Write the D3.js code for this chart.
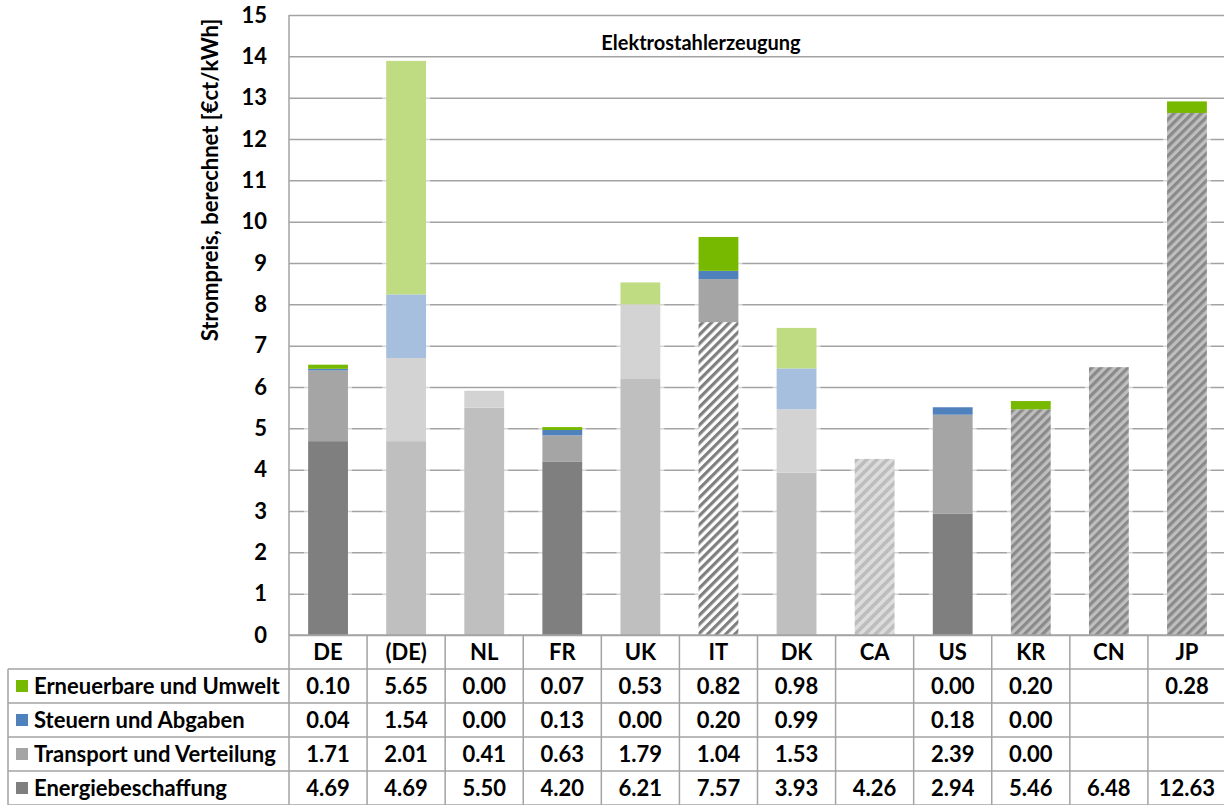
<!DOCTYPE html>
<html>
<head>
<meta charset="utf-8">
<script src="https://cdn.jsdelivr.net/npm/d3@7"></script>
<style>
  html, body { margin: 0; padding: 0; background: #fff; }
  svg { display: block; font-family: Lato, "Open Sans", sans-serif; font-weight: 700; }
</style>
</head>
<body>
<svg id="chart" width="1224" height="805"></svg>
<script>
// Countries (columns)
const categories = ["DE", "(DE)", "NL", "FR", "UK", "IT", "DK", "CA", "US", "KR", "CN", "JP"];

// Price components in €ct/kWh (null = no value given)
const renewables = [0.10, 5.65, 0.00, 0.07, 0.53, 0.82, 0.98, null, 0.00, 0.20, null, 0.28];
const taxes      = [0.04, 1.54, 0.00, 0.13, 0.00, 0.20, 0.99, null, 0.18, 0.00, null, null];
const transport  = [1.71, 2.01, 0.41, 0.63, 1.79, 1.04, 1.53, null, 2.39, 0.00, null, null];
const energy     = [4.69, 4.69, 5.50, 4.20, 6.21, 7.57, 3.93, 4.26, 2.94, 5.46, 6.48, 12.63];

const seriesNames = {
  renewables: "Erneuerbare und Umwelt",
  taxes: "Steuern und Abgaben",
  transport: "Transport und Verteilung",
  energy: "Energiebeschaffung"
};

const yTicks = [0, 1, 2, 3, 4, 5, 6, 7, 8, 9, 10, 11, 12, 13, 14, 15];

const chartTitle = "Elektrostahlerzeugung";
const yTitle = "Strompreis, berechnet [€ct/kWh]";

// Colour scheme per country and fill of the energy segment
const tone = ["dark", "light", "light", "dark", "light", "dark", "light", "dark", "dark", "dark", "dark", "dark"];
const energyFill = ["solid", "solid", "solid", "solid", "solid", "hatchWhite", "solid", "hatchLight", "solid", "hatchGray", "hatchGray", "hatchGray"];

const palette = {
  dark:  { energy: "#7f7f7f", transport: "#a5a5a5", taxes: "#4f81bd", renewables: "#77b800" },
  light: { energy: "#bfbfbf", transport: "#d3d3d3", taxes: "#a7bfde", renewables: "#bfdc82" }
};

const svg = d3.select("#chart");
const gridColor = "#a3a3a3";
const plot = { left: 289, right: 1226, top: 15, bottom: 635 };
const fontSize = "22px";

const x = d3.scaleBand()
  .domain(categories)
  .range([plot.left, plot.right])
  .paddingInner(0.49)
  .paddingOuter(0.245);

const y = d3.scaleLinear().domain([0, 15]).range([plot.bottom, plot.top]);

// Hatch patterns (upward diagonal stripes)
const defs = svg.append("defs");
function hatch(id, bg, fg, size) {
  const p = defs.append("pattern")
    .attr("id", id)
    .attr("patternUnits", "userSpaceOnUse")
    .attr("width", size).attr("height", size)
    .attr("patternTransform", "rotate(45)");
  p.append("rect").attr("width", size).attr("height", size).attr("fill", bg);
  p.append("rect").attr("width", size / 2).attr("height", size).attr("fill", fg);
}
hatch("hatchWhite", "#ffffff", "#7f7f7f", 6.4);
hatch("hatchLight", "#dcdcdc", "#bdbdbd", 7.2);
hatch("hatchGray",  "#bfbfbf", "#8a8a8a", 6.4);

// Gridlines and tick labels
const yAxis = svg.append("g")
  .attr("transform", `translate(${plot.left},0)`)
  .call(d3.axisLeft(y).tickValues(yTicks).tickFormat(d3.format("d")).tickSize(-(plot.right - plot.left)).tickPadding(22));
yAxis.select(".domain").remove();
yAxis.selectAll(".tick line").attr("stroke", gridColor).attr("stroke-width", 1.5);
yAxis.selectAll(".tick text")
  .attr("fill", "#000")
  .style("font-family", "Lato, 'Open Sans', sans-serif")
  .style("font-weight", 700)
  .style("font-size", fontSize);

// Vertical axis line
svg.append("line")
  .attr("x1", plot.left).attr("x2", plot.left)
  .attr("y1", plot.top).attr("y2", 806)
  .attr("stroke", gridColor).attr("stroke-width", 1.5);

// Stacked bars
const keys = ["energy", "transport", "taxes", "renewables"];
const rows = categories.map((c, i) => ({
  cat: c, i,
  energy: energy[i] ?? 0,
  transport: transport[i] ?? 0,
  taxes: taxes[i] ?? 0,
  renewables: renewables[i] ?? 0
}));
const stacked = d3.stack().keys(keys)(rows);

// soft halo behind bars
svg.append("g").selectAll("rect")
  .data(rows)
  .join("rect")
  .attr("x", d => x(d.cat) - 4)
  .attr("width", x.bandwidth() + 8)
  .attr("y", d => y(d3.sum(keys, k => d[k])))
  .attr("height", d => y(0) - y(d3.sum(keys, k => d[k])))
  .attr("fill", "#ffffff")
  .attr("opacity", 0.55);

function segFill(key, i) {
  if (key === "energy" && energyFill[i] !== "solid") return `url(#${energyFill[i]})`;
  return palette[tone[i]][key];
}

svg.append("g").selectAll("g")
  .data(stacked)
  .join("g")
  .each(function (layer) {
    d3.select(this).selectAll("rect")
      .data(layer.filter(d => d[1] - d[0] > 0))
      .join("rect")
      .attr("x", d => x(d.data.cat))
      .attr("width", x.bandwidth())
      .attr("y", d => y(d[1]))
      .attr("height", d => y(d[0]) - y(d[1]))
      .attr("fill", d => segFill(layer.key, d.data.i));
  });

// Title
svg.append("text")
  .attr("x", 701).attr("y", 50)
  .attr("text-anchor", "middle")
  .style("font-size", "20px")
  .text(chartTitle);

// Y axis title
svg.append("text")
  .attr("transform", "translate(218,180) rotate(-90)")
  .attr("text-anchor", "middle")
  .style("font-size", "22px")
  .text(yTitle);

// Data table
const rowH = 34;
const tableTop = plot.bottom;
const tableOrder = ["renewables", "taxes", "transport", "energy"];
const valueArrays = { renewables, taxes, transport, energy };
const step = x.step();
const colLeft = c => x(c) + x.bandwidth() / 2 - step / 2;
const table = svg.append("g");

// horizontal lines
for (let r = 0; r <= tableOrder.length + 1; r++) {
  const yy = tableTop + r * rowH;
  table.append("line")
    .attr("x1", r === 0 ? plot.left : 8).attr("x2", plot.right)
    .attr("y1", yy).attr("y2", yy)
    .attr("stroke", gridColor).attr("stroke-width", 1.5);
}
// vertical lines
categories.forEach(c => {
  table.append("line")
    .attr("x1", colLeft(c) + step).attr("x2", colLeft(c) + step)
    .attr("y1", tableTop).attr("y2", tableTop + rowH * 5 + 2)
    .attr("stroke", gridColor).attr("stroke-width", 1.5);
});
table.append("line")
  .attr("x1", 8).attr("x2", 8)
  .attr("y1", tableTop + rowH).attr("y2", tableTop + rowH * 5 + 2)
  .attr("stroke", gridColor).attr("stroke-width", 1.5);

// header
table.selectAll("text.head")
  .data(categories)
  .join("text")
  .attr("class", "head")
  .attr("x", c => x(c) + x.bandwidth() / 2)
  .attr("y", tableTop + rowH / 2)
  .attr("dy", "0.36em")
  .attr("text-anchor", "middle")
  .style("font-size", fontSize)
  .text(c => c);

tableOrder.forEach((key, r) => {
  const cy = tableTop + (r + 1) * rowH + rowH / 2;
  table.append("rect")
    .attr("x", 16).attr("y", cy - 6)
    .attr("width", 12).attr("height", 12)
    .attr("fill", palette.dark[key]);
  table.append("text")
    .attr("x", 34).attr("y", cy).attr("dy", "0.36em")
    .style("font-size", fontSize)
    .text(seriesNames[key]);
  table.selectAll(`text.v-${key}`)
    .data(valueArrays[key])
    .join("text")
    .attr("class", `v-${key}`)
    .attr("x", (v, i) => x(categories[i]) + x.bandwidth() / 2)
    .attr("y", cy).attr("dy", "0.36em")
    .attr("text-anchor", "middle")
    .style("font-size", fontSize)
    .text(v => v == null ? "" : v.toFixed(2));
});
</script>
</body>
</html>
